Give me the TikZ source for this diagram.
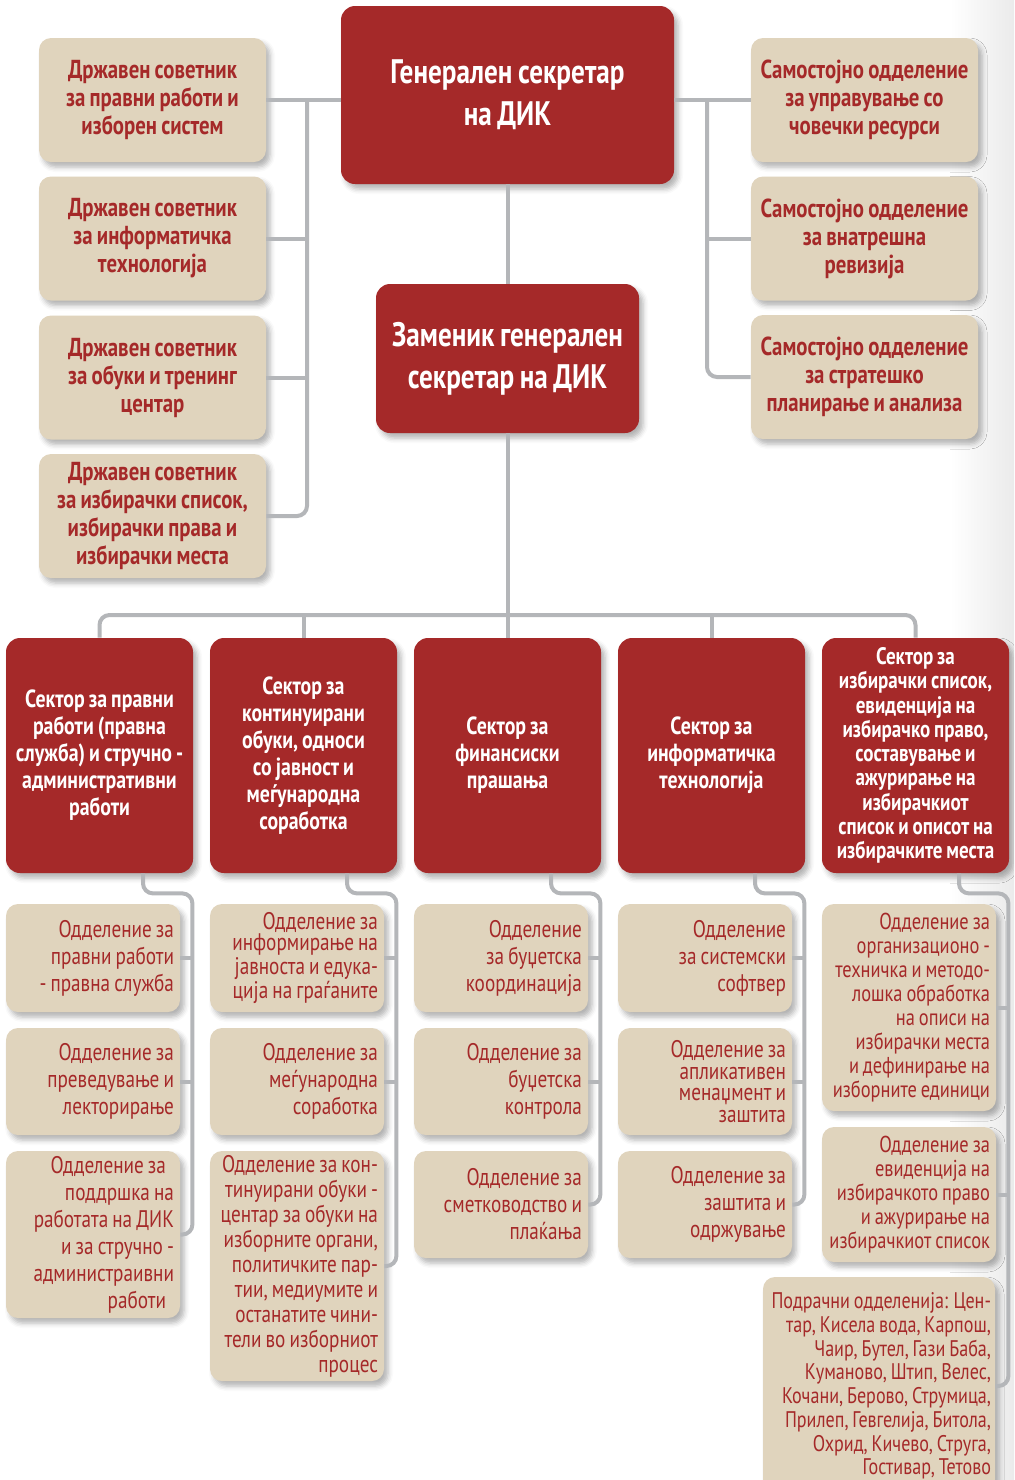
\documentclass[tikz,border=0pt]{standalone}
\usepackage{fontspec}
\setmainfont{PT Sans}[FakeStretch=0.8, WordSpace=0.8]
\usepackage{tikz}
\usetikzlibrary{calc, shadows.blur}
\definecolor{dikred}{RGB}{165,41,41}
\definecolor{dikbeige}{RGB}{224,212,189}
\definecolor{linkgray}{RGB}{180,182,185}
\newcommand{\dikhead}{\bfseries\fontsize{17}{21}\selectfont}
\newcommand{\dikadv}{\bfseries\fontsize{13}{14}\selectfont}
\newcommand{\diksec}{\bfseries\fontsize{12.4}{13.5}\selectfont}
\newcommand{\dikdept}{\fontsize{12}{13.5}\selectfont}
\tikzstyle{boxshadow}=[blur shadow={shadow xshift=2pt, shadow yshift=-2.5pt, shadow blur radius=2.5pt, shadow opacity=30}]
\tikzstyle{chief}=[rectangle, rounded corners=7pt, fill=dikred, text=white, font=\dikhead, align=flush center, inner sep=0pt, boxshadow]
\tikzstyle{advisor}=[rectangle, rounded corners=6pt, fill=dikbeige, text=dikred, font=\dikadv, align=flush center, inner sep=0pt, minimum width=113.5pt, minimum height=62pt, text width=110pt, boxshadow]
\tikzstyle{sector}=[rectangle, rounded corners=7pt, fill=dikred, text=white, font=\diksec, align=flush center, inner sep=0pt, minimum width=93.5pt, minimum height=117.5pt, text width=91pt, boxshadow]
\tikzstyle{dept}=[rectangle, rounded corners=6pt, fill=dikbeige, text=dikred, font=\dikdept, align=flush right, inner xsep=3pt, inner ysep=0pt, text width=81pt, minimum width=87pt, boxshadow]
\tikzstyle{link}=[draw=linkgray, line width=2pt, rounded corners=5pt]

\begin{document}
\begin{tikzpicture}[x=0.5pt, y=-0.5pt]
  \useasboundingbox (0,0) rectangle (1014,1480);
  \clip (0,0) rectangle (1014,1480);
  \shade[left color=white, right color=black!8] (950,0) rectangle (1014,1480);

  % management
  \node[chief, minimum width=166.5pt, minimum height=89pt] (gensec) at (507.5,95) {Генерален секретар\\на ДИК};
  \node[chief, minimum width=131.5pt, minimum height=74.5pt] (deputy) at (507.5,358.5) {Заменик генерален\\секретар на ДИК};

  % state advisors
  \node[advisor] (adv1) at (152.5,100) {Државен советник\\за правни работи и\\изборен систем};
  \node[advisor] (adv2) at (152.5,238.5) {Државен советник\\за информатичка\\технологија};
  \node[advisor] (adv3) at (152.5,377.5) {Државен советник\\за обуки и тренинг\\центар};
  \node[advisor] (adv4) at (152.5,516) {Државен советник\\за избирачки список,\\избирачки права и\\избирачки места};

  % independent units
  \node[advisor] (unit1) at (864.5,100) {Самостојно одделение\\за управување со\\човечки ресурси};
  \node[advisor] (unit2) at (864.5,238.5) {Самостојно одделение\\за внатрешна\\ревизија};
  \node[advisor] (unit3) at (864.5,377) {Самостојно одделение\\за стратешко\\планирање и анализа};

  % sectors
  \node[sector] (sec1) at (99.5,755.5) {Сектор за правни\\работи (правна\\служба) и стручно -\\административни\\работи};
  \node[sector] (sec2) at (303.5,755.5) {Сектор за\\континуирани\\обуки, односи\\со јавност и\\меѓународна\\соработка};
  \node[sector] (sec3) at (507.5,755.5) {Сектор за\\финансиски\\прашања};
  \node[sector] (sec4) at (711.5,755.5) {Сектор за\\информатичка\\технологија};
  \node[sector, font=\bfseries\fontsize{11.9}{12.15}\selectfont] (sec5) at (915.5,755.5) {Сектор за\\избирачки список,\\евиденција на\\избирачко право,\\составување и\\ажурирање на\\избирачкиот\\список и описот на\\избирачките места};

  % departments
  \node[dept, minimum height=54pt] (d11) at (93,958) {Одделение за\\правни работи\\- правна служба};
  \node[dept, minimum height=53.5pt] (d12) at (93,1081.5) {Одделение за\\преведување и\\лекторирање};
  \node[dept, minimum height=83.5pt] (d13) at (93,1234.5) {Одделение за\kern4pt\\поддршка на\\работата на ДИК\\и за стручно -\\администраивни\\работи\kern4pt};

  \node[dept, minimum height=54pt, font=\fontsize{12}{10.85}\selectfont] (d21) at (297,958) {Одделение за\\информирање на\\јавноста и едука-\\ција на граѓаните};
  \node[dept, minimum height=53.5pt] (d22) at (297,1081.5) {Одделение за\\меѓународна\\соработка};
  \node[dept, minimum height=115pt, font=\fontsize{12}{12.5}\selectfont] (d23) at (297,1266) {Одделение за кон-\\тинуирани обуки -\\центар за обуки на\\изборните органи,\\политичките пар-\\тии, медиумите и\\останатите чини-\\тели во изборниот\\процес};

  \node[dept, minimum height=54pt] (d31) at (501,958) {Одделение\\за буџетска\\координација};
  \node[dept, minimum height=53.5pt] (d32) at (501,1081.5) {Одделение за\\буџетска\\контрола};
  \node[dept, minimum height=53.5pt] (d33) at (501,1204.5) {Одделение за\\сметководство и\\плаќања};

  \node[dept, minimum height=54pt] (d41) at (705,958) {Одделение\\за системски\\софтвер};
  \node[dept, minimum height=53.5pt, font=\fontsize{12}{10.85}\selectfont] (d42) at (705,1081.5) {Одделение за\\апликативен\\менаџмент и\\заштита};
  \node[dept, minimum height=53.5pt] (d43) at (705,1204.5) {Одделение за\\заштита и\\одржување};

  \node[dept, minimum height=103.5pt, font=\fontsize{11.5}{12}\selectfont] (d51) at (909,1007.5) {Одделение за\\организационо -\\техничка и методо-\\лошка обработка\\на описи на\\избирачки места\\и дефинирање на\\изборните единици};
  \node[dept, minimum height=67.5pt, font=\fontsize{11.5}{12}\selectfont] (d52) at (909,1194.5) {Одделение за\\евиденција на\\избирачкото право\\и ажурирање на\\избирачкиот список};
  \node[dept, minimum height=109pt, minimum width=116pt, inner xsep=2pt, text width=112pt, font=\fontsize{11.3}{11.85}\selectfont] (d53) at (879,1386) {Подрачни одделенија: Цен-\\тар, Кисела вода, Карпош,\\Чаир, Бутел, Гази Баба,\\Куманово, Штип, Велес,\\Кочани, Берово, Струмица,\\Прилеп, Гевгелија, Битола,\\Охрид, Кичево, Струга,\\Гостивар, Тетово};

  \coordinate (lbus) at (307,99);
  \coordinate (rbus) at (707,99);
  \coordinate (hbus) at (507.5,615);

  \draw[link] (adv1.east) -- (adv1.east -| gensec.west);
  \draw[link] (lbus) |- (adv4.east);
  \foreach \m in {adv2, adv3}{
    \draw[link] (\m.east) -- (\m.east -| lbus);
  }
  \draw[link] (unit1.west) -- (unit1.west -| gensec.east);
  \draw[link] (rbus) |- (unit3.west);
  \draw[link] (unit2.west) -- (unit2.west -| rbus);

  \draw[link] (gensec.south) -- (deputy.north);
  \draw[link] (deputy.south) -- (sec3.north);
  \draw[link] (sec1.north) |- (hbus) -| (sec5.north);
  \foreach \m in {sec2, sec4}{
    \draw[link] (\m.north) -- (\m.north |- hbus);
  }

  \foreach \c in {1,...,5}{
    \coordinate (drop\c) at ($(sec\c.south)+(43.5,0)$);
    \coordinate (turn\c) at ($(sec\c.south east)+(-1,20)$);
    \draw[link] (drop\c) |- (turn\c) |- (d\c3.east);
    \foreach \r in {1,2}{
      \draw[link] (d\c\r.east) -- (d\c\r.east -| turn\c);
    }
  }
\end{tikzpicture}
\end{document}
